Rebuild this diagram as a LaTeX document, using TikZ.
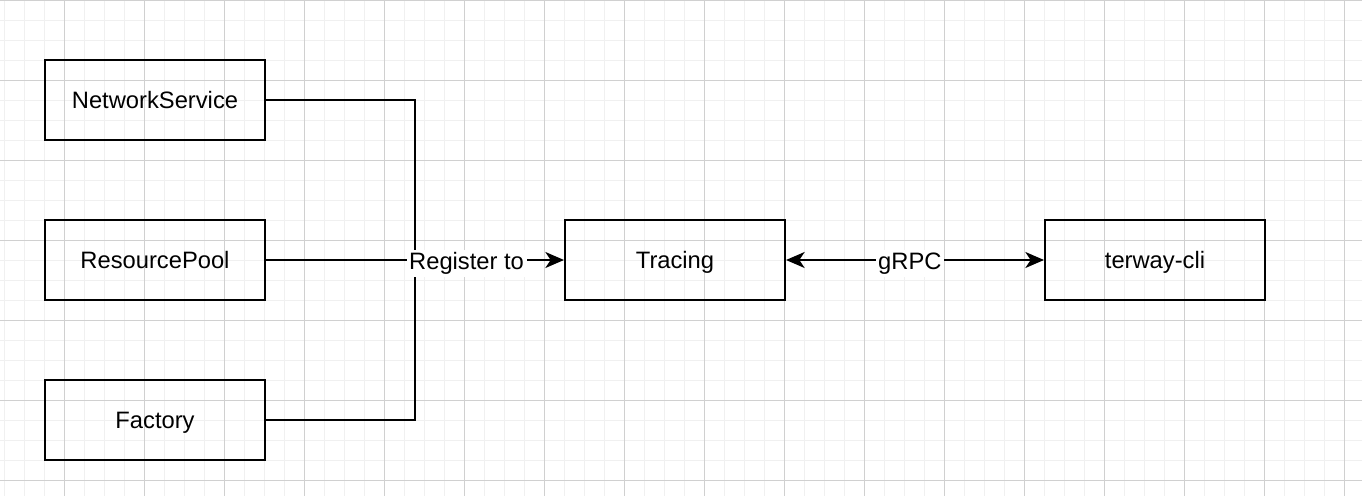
\documentclass[tikz,border=0pt]{standalone}
\usepackage{fontspec}
\setmainfont{Liberation Sans}
\usetikzlibrary{arrows.meta}
\definecolor{minorgrid}{HTML}{F0F0F0}
\definecolor{majorgrid}{HTML}{D0D0D0}
\begin{document}
\begin{tikzpicture}[x=0.75pt,y=-0.75pt,
  box/.style={draw, line width=1.5pt, minimum width=165pt, minimum height=60pt, inner sep=0pt, text depth=0pt, font=\fontsize{17.8}{20}\selectfont},
  conn/.style={line width=1.5pt},
  lab/.style={fill=white, inner sep=2pt, text height=12.5pt, text depth=4pt, yshift=-2.5pt, font=\fontsize{17.8}{20}\selectfont},
  tipend/.style={-{Stealth[length=14pt,width=12pt,inset=4pt]}},
  tipboth/.style={{Stealth[length=14pt,width=12pt,inset=4pt]}-{Stealth[length=14pt,width=12pt,inset=4pt]}}]
\useasboundingbox (0,0) rectangle (1362,496);
\fill[white] (0,0) rectangle (1362,496);
% minor grid
\foreach \x in {4,24,...,1362} \draw[minorgrid, line width=0.75pt] (\x,0) -- (\x,496);
\foreach \y in {0,20,...,496} \draw[minorgrid, line width=0.75pt] (0,\y) -- (1362,\y);
% major grid
\foreach \x in {64,144,...,1362} \draw[majorgrid, line width=0.75pt] (\x,0) -- (\x,496);
\foreach \y in {0,80,...,496} \draw[majorgrid, line width=0.75pt] (0,\y) -- (1362,\y);
% nodes
\node[box] (ns) at (155,100) {NetworkService};
\node[box] (rp) at (155,260) {ResourcePool};
\node[box] (fa) at (155,420) {Factory};
\node[box] (tr) at (675,260) {Tracing};
\node[box] (tc) at (1155,260) {terway-cli};
\coordinate (j) at (415,260);
% connectors
\draw[conn] (ns.east) -| (j);
\draw[conn] (fa.east) -| (j);
\draw[conn, tipend] (rp.east) -- (tr.west) node[lab, pos=0.673] {Register to};
\draw[conn, tipboth] (tr.east) -- (tc.west) node[lab, pos=0.48] {gRPC};
\end{tikzpicture}
\end{document}
